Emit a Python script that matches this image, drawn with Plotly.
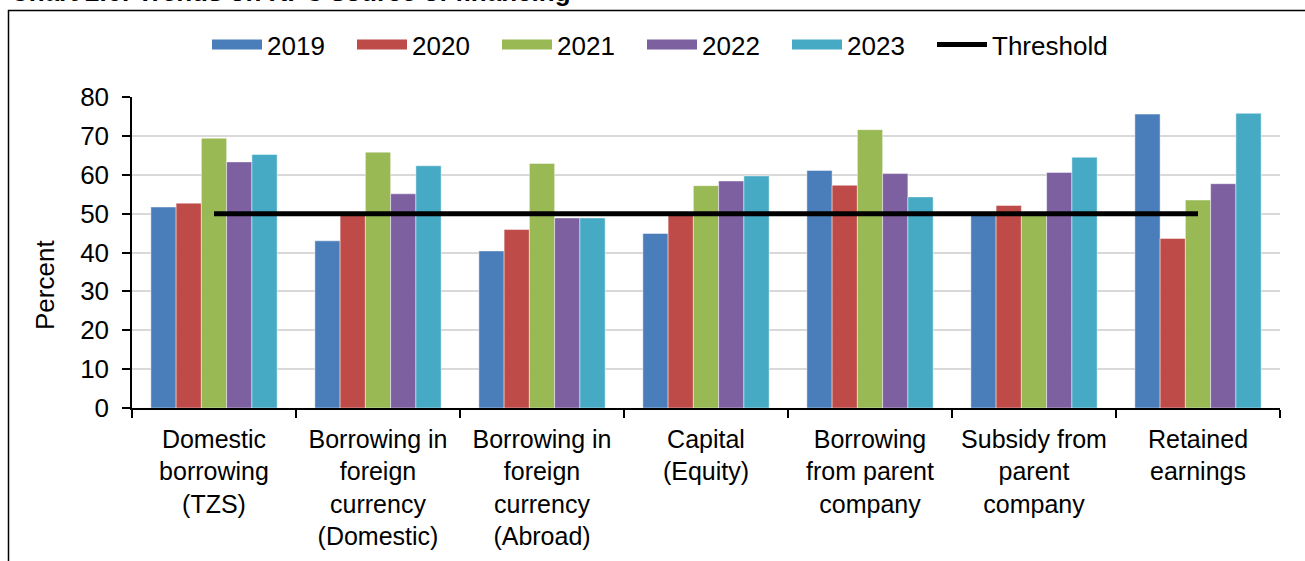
import plotly.graph_objects as go

categories = [
    "Domestic<br>borrowing<br>(TZS)",
    "Borrowing in<br>foreign<br>currency<br>(Domestic)",
    "Borrowing in<br>foreign<br>currency<br>(Abroad)",
    "Capital<br>(Equity)",
    "Borrowing<br>from parent<br>company",
    "Subsidy from<br>parent<br>company",
    "Retained<br>earnings",
]
years = ["2019", "2020", "2021", "2022", "2023"]
v2019 = [51.7, 43.0, 40.4, 44.9, 61.1, 49.9, 75.6]
v2020 = [52.7, 49.9, 45.9, 49.9, 57.3, 52.1, 43.6]
v2021 = [69.4, 65.8, 62.9, 57.2, 71.6, 49.9, 53.5]
v2022 = [63.3, 55.1, 48.9, 58.4, 60.3, 60.6, 57.7]
v2023 = [65.2, 62.3, 48.9, 59.7, 54.3, 64.5, 75.8]
threshold = [50, 50, 50, 50, 50, 50, 50]
colors = ["#4a7ebb", "#be4b48", "#98b954", "#7d60a0", "#46aac5"]
series = [v2019, v2020, v2021, v2022, v2023]

W, H = 1305, 561
L, R, T, B = 132, 1280, 97, 408
def pxx(p):
    return (p - L) / (R - L)
def pxy(p):
    return (B - p) / (B - T)

FONT = "Liberation Sans, Arial, sans-serif"
fig = go.Figure()
for name, vals, col in zip(years, series, colors):
    fig.add_trace(go.Bar(
        x=categories, y=vals, name=name, marker_color=col,
        marker_line=dict(color="rgba(255,255,255,0.45)", width=1),
        showlegend=False,
    ))
# legend entries (wide swatches)
for name, col in zip(years, colors):
    fig.add_trace(go.Scatter(
        x=[None], y=[None], mode="lines", name=name,
        line=dict(color=col, width=10), showlegend=True, legendwidth=80,
    ))
fig.add_trace(go.Scatter(
    x=categories, y=threshold, mode="lines", name="Threshold",
    line=dict(color="black", width=5), showlegend=True, legendwidth=130,
))

fig.update_layout(
    width=W, height=H,
    margin=dict(l=L, r=W - R, t=T, b=H - B),
    paper_bgcolor="white", plot_bgcolor="white",
    font=dict(family=FONT, size=26, color="black"),
    barmode="group", bargap=0.23, bargroupgap=0,
    showlegend=True,
    legend=dict(
        orientation="h", x=pxx(207), xanchor="left", y=pxy(21), yanchor="top",
        font=dict(size=26), itemwidth=50, bgcolor="rgba(0,0,0,0)",
        traceorder="normal",
    ),
    xaxis=dict(
        type="category", showline=True, linecolor="black", linewidth=1.5,
        ticks="outside", tickson="boundaries", ticklen=8, tickcolor="black",
        tickwidth=1.5, showgrid=False, tickfont=dict(size=25),
        ticklabelstandoff=8, range=[-0.5, 6.5],
    ),
    yaxis=dict(
        range=[0, 80], dtick=10, showline=True, linecolor="black", linewidth=1.5,
        ticks="outside", ticklen=8, tickcolor="black", tickwidth=1.5,
        showgrid=True, gridcolor="#d9d9d9", gridwidth=2,
        tickfont=dict(size=26), ticklabelstandoff=8, zeroline=False,
    ),
    annotations=[
        dict(text="Percent", textangle=-90, x=pxx(45), y=pxy(285),
             xref="paper", yref="paper", showarrow=False,
             font=dict(size=26), xanchor="center", yanchor="middle"),
        dict(text="<b>Chart 2.6: Trends on KPC source of financing</b>",
             x=pxx(8), y=pxy(9), xref="paper", yref="paper", showarrow=False,
             xanchor="left", yanchor="bottom", font=dict(size=26)),
    ],
    shapes=[
        dict(type="rect", xref="paper", yref="paper",
             x0=pxx(8.5), x1=pxx(1320), y0=pxy(580), y1=pxy(10.5),
             line=dict(color="black", width=1.5), fillcolor="rgba(0,0,0,0)",
             layer="below"),
    ],
)
fig.write_html(
    "out.html",
    config={"displayModeBar": False},
    post_script="document.body.style.margin='0';document.body.style.overflow='hidden';",
)
